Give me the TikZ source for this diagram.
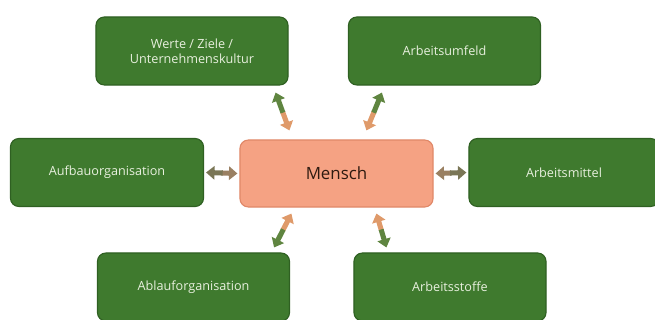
\documentclass[tikz,border=0pt]{standalone}
\usepackage{fontspec}
\setmainfont{Open Sans}
\usepackage{tikz}
\usetikzlibrary{arrows.meta,calc}
\definecolor{figgreen}{HTML}{3F7A2E}
\definecolor{figdgreen}{HTML}{2F6022}
\definecolor{figsalmon}{HTML}{F5A283}
\definecolor{figdsalmon}{HTML}{E08868}
\definecolor{figbrown}{HTML}{2E1A10}
\definecolor{figtext}{HTML}{E8F0DE}
\definecolor{arrorange}{HTML}{DF9A6A}
\definecolor{arrgreen}{HTML}{5F8540}
\definecolor{arrtaupe}{HTML}{9A8062}
\definecolor{arrolive}{HTML}{7A7656}
\tikzset{
  gbox/.style={draw=figdgreen, fill=figgreen, line width=0.8pt, rounded corners=6pt,
    minimum width=4.8cm, minimum height=1.7cm, text=figtext, font=\fontsize{9}{11}\selectfont,
    align=center, inner sep=0pt},
  mbox/.style={draw=figdsalmon, fill=figsalmon, line width=0.8pt, rounded corners=6pt,
    minimum width=4.825cm, minimum height=1.675cm, text=figbrown, font=\fontsize{12}{14}\selectfont,
    inner sep=0pt},
  pfeil/.style={line width=3.6pt, -{Triangle[width=9.5pt,length=6pt]}},
}
% two-tone double arrow: first colour towards Mensch, second towards the box
\newcommand{\bipfeil}[4]{%
  \draw[pfeil, draw=#3, fill=#3] ($(#1)!0.5!(#2)$) -- (#1);
  \draw[pfeil, draw=#4, fill=#4] ($(#1)!0.47!(#2)$) -- (#2);
}
\begin{document}
\begin{tikzpicture}[x=0.025cm,y=-0.025cm]
\useasboundingbox (0,0) rectangle (655,320);

\node[mbox] (mensch) at (336.5,173.5) {Mensch};

\node[gbox] (werte) at (192,51) {Werte / Ziele /\\Unternehmenskultur};
\node[gbox] (umfeld) at (444.5,51) {Arbeitsumfeld};
\node[gbox, minimum width=4.825cm] (aufbau) at (107,172.5) {Aufbauorganisation};
\node[gbox, minimum width=4.75cm] (mittel) at (564,172.5) {Arbeitsmittel};
\node[gbox] (ablauf) at (193.5,287) {Ablauforganisation};
\node[gbox] (stoffe) at (450,287) {Arbeitsstoffe};

\coordinate (tl-m) at ([shift={(50,-9)}]mensch.north west);
\coordinate (tl-b) at ([shift={(-13,7)}]werte.south east);
\coordinate (tr-m) at ([shift={(127,-9)}]mensch.north west);
\coordinate (tr-b) at ([shift={(34,7)}]umfeld.south west);
\coordinate (bl-m) at ([shift={(52,6)}]mensch.south west);
\coordinate (bl-b) at ([shift={(-16,-5)}]ablauf.north east);
\coordinate (br-m) at ([shift={(137,6)}]mensch.south west);
\coordinate (br-b) at ([shift={(33,-5)}]stoffe.north west);
\coordinate (l-m) at ([shift={(-2,0)}]mensch.west);
\coordinate (l-b) at ([shift={(2,0)}]aufbau.east);
\coordinate (r-m) at ([shift={(2,0)}]mensch.east);
\coordinate (r-b) at ([shift={(-2,0)}]mittel.west);

\bipfeil{tl-m}{tl-b}{arrorange}{arrgreen}
\bipfeil{tr-m}{tr-b}{arrorange}{arrgreen}
\bipfeil{bl-m}{bl-b}{arrorange}{arrgreen}
\bipfeil{br-m}{br-b}{arrorange}{arrgreen}
\bipfeil{l-m}{l-b}{arrtaupe}{arrolive}
\bipfeil{r-m}{r-b}{arrtaupe}{arrolive}
\end{tikzpicture}
\end{document}
